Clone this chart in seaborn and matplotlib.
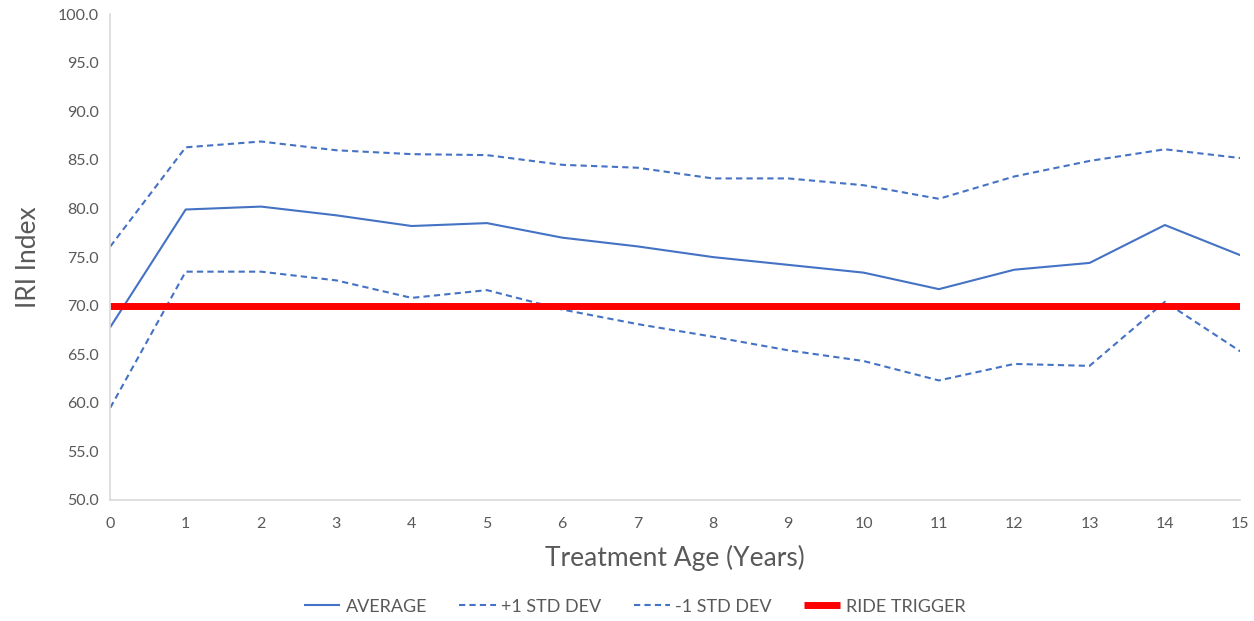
import seaborn as sns
import pandas as pd
import numpy as np
import matplotlib.pyplot as plt

# chart values
years = list(range(16))
average = [67.8, 79.9, 80.2, 79.3, 78.2, 78.5, 77.0, 76.1, 75.0, 74.2, 73.4, 71.7, 73.7, 74.4, 78.3, 75.2]
plus_std = [76.1, 86.3, 86.9, 86.0, 85.6, 85.5, 84.5, 84.2, 83.1, 83.1, 82.4, 81.0, 83.3, 84.9, 86.1, 85.2]
minus_std = [59.5, 73.5, 73.5, 72.6, 70.8, 71.6, 69.6, 68.1, 66.8, 65.4, 64.3, 62.3, 64.0, 63.8, 70.4, 65.3]
ride_trigger = [70.0] * 16

df = pd.DataFrame({"year": years, "AVERAGE": average, "+1 STD DEV": plus_std,
                   "-1 STD DEV": minus_std, "RIDE TRIGGER": ride_trigger})

sns.set_theme(style="white")
plt.rcParams['font.family'] = ['Lato', 'DejaVu Sans']

fig, ax = plt.subplots(figsize=(12.54, 6.21), dpi=100)
fig.subplots_adjust(left=0.088, right=0.989, top=0.977, bottom=0.195)

blue = "#4472C4"
sns.lineplot(data=df, x="year", y="AVERAGE", ax=ax, color=blue, lw=1.5, label="AVERAGE")
sns.lineplot(data=df, x="year", y="+1 STD DEV", ax=ax, color=blue, lw=1.5,
             linestyle=(0, (3, 2)), label="+1 STD DEV")
sns.lineplot(data=df, x="year", y="-1 STD DEV", ax=ax, color=blue, lw=1.5,
             linestyle=(0, (3, 2)), label="-1 STD DEV")
sns.lineplot(data=df, x="year", y="RIDE TRIGGER", ax=ax, color="#FF0000", lw=5,
             solid_capstyle="butt", label="RIDE TRIGGER")

ax.set_xlim(0, 15)
ax.set_ylim(50, 100)
ax.set_xticks(years)
ax.set_yticks(np.arange(50, 100.1, 5))
ax.set_yticklabels([f"{v:.1f}" for v in np.arange(50, 100.1, 5)])
ax.tick_params(axis="y", labelsize=11.5, colors="#595959", length=0, pad=8)
ax.tick_params(axis="x", labelsize=11.5, colors="#595959", length=0, pad=12)

for side in ["top", "right"]:
    ax.spines[side].set_visible(False)
for side in ["left", "bottom"]:
    ax.spines[side].set_color("#D9D9D9")
    ax.spines[side].set_linewidth(1.2)

ax.set_xlabel("Treatment Age (Years)", fontsize=19, color="#595959", labelpad=10)
ax.set_ylabel("IRI Index", fontsize=19, color="#595959", labelpad=12)

leg = ax.legend(loc="upper center", bbox_to_anchor=(0.464, -0.17), ncol=4, frameon=False,
                fontsize=13, handlelength=2.0, columnspacing=1.8, handletextpad=0.3,
                labelcolor="#595959")
for line in leg.get_lines():
    line.set_solid_capstyle("butt")

fig.savefig("out.png", dpi=100)
